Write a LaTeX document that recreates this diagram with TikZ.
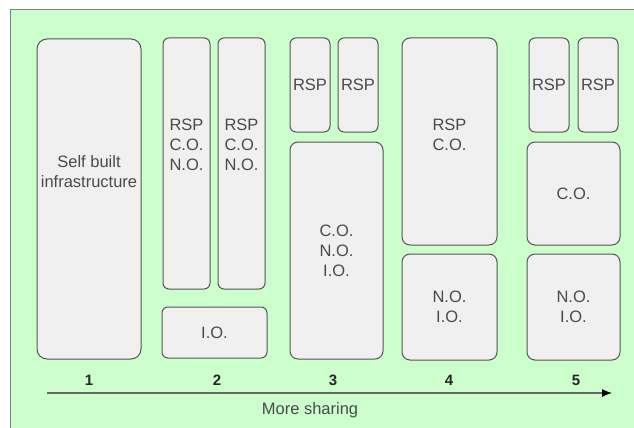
\documentclass[tikz,border=0pt]{standalone}
\usepackage{fontspec}
\setmainfont{Liberation Sans}
\usetikzlibrary{arrows.meta}
\definecolor{sfondo}{HTML}{CCFFCC}
\definecolor{grigio}{HTML}{F0F0F0}
\definecolor{bordo}{HTML}{555555}
\definecolor{scritta}{HTML}{4A4A4A}
\tikzset{
    blok/.style={draw=bordo, fill=grigio, line width=1pt, rounded corners=#1, inner sep=0pt},
    blok/.default=6pt,
    tekst/.style={text=scritta, align=center, font=\fontsize{16.5}{20}\selectfont},
    numero/.style={text=black!85, font=\fontsize{15}{18}\selectfont\bfseries}
}
\begin{document}
\begin{tikzpicture}[x=1pt, y=-1pt]
        \useasboundingbox (0,0) rectangle (634,428);
        % Sfondo
        \draw[fill=sfondo, draw=black!50, line width=1pt] (10,10) rectangle (660,460);

        % Colonna 1
        \node[blok=10pt, minimum width=104pt, minimum height=320pt,
              label={[tekst, yshift=27pt]center:Self built\\infrastructure}] (b1) at (89,199) {};

        % Colonna 2
        \node[blok, minimum width=47pt, minimum height=251pt,
              label={[tekst, yshift=19pt]center:RSP\\C.O.\\N.O.}] (b2a) at (186.5,163.5) {};
        \node[blok, minimum width=47pt, minimum height=251pt,
              label={[tekst, yshift=19pt]center:RSP\\C.O.\\N.O.}] (b2b) at (241.5,163.5) {};
        \node[blok, minimum width=105pt, minimum height=51pt, tekst] (b2c) at (214.5,332.5) {I.O.};

        % Colonna 3
        \node[blok, minimum width=40pt, minimum height=94pt, tekst] (b3a) at (310,85) {RSP};
        \node[blok, minimum width=40pt, minimum height=94pt, tekst] (b3b) at (358,85) {RSP};
        \node[blok=8pt, minimum width=93pt, minimum height=217pt, tekst] (b3c) at (336.5,250.5) {C.O.\\N.O.\\I.O.};

        % Colonna 4
        \node[blok=8pt, minimum width=95pt, minimum height=207pt,
              label={[tekst, yshift=7pt]center:RSP\\C.O.}] (b4a) at (449.5,141.5) {};
        \node[blok=8pt, minimum width=95pt, minimum height=106pt, tekst] (b4b) at (449.5,307) {N.O.\\I.O.};

        % Colonna 5
        \node[blok, minimum width=40pt, minimum height=94pt, tekst] (b5a) at (549,85) {RSP};
        \node[blok, minimum width=40pt, minimum height=94pt, tekst] (b5b) at (598,85) {RSP};
        \node[blok=8pt, minimum width=93pt, minimum height=103pt, tekst] (b5c) at (573.5,193.5) {C.O.};
        \node[blok=8pt, minimum width=93pt, minimum height=106pt, tekst] (b5d) at (573.5,307) {N.O.\\I.O.};

        % Numeri
        \foreach \n/\x in {1/89, 2/217, 3/333, 4/449, 5/576} {
            \node[numero] (n\n) at (\x,380) {\n};
        }

        % Freccia
        \coordinate (inizio) at (47,393);
        \coordinate (fine) at (612,393);
        \draw[line width=1.2pt, draw=black!60, -{Latex[length=10pt, width=8pt, black]}] (inizio) -- (fine);
        \node[tekst] (sharing) at (310,410) {More sharing};
    \end{tikzpicture}
\end{document}
